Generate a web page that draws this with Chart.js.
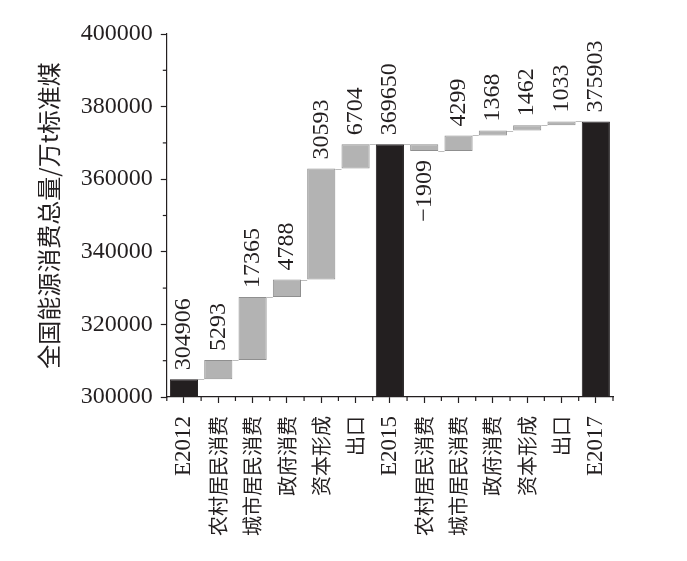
<!DOCTYPE html>
<html><head><meta charset="utf-8">
<script src="https://cdn.jsdelivr.net/npm/chart.js@4"></script>
<style>html,body{margin:0;padding:0;background:#fff;} #wrap{width:687px;height:561px;position:relative;}</style>
</head><body><div id="wrap"><canvas id="c"></canvas></div>
<script>
const categories = ['E2012','农村居民消费','城市居民消费','政府消费','资本形成','出口','E2015','农村居民消费','城市居民消费','政府消费','资本形成','出口','E2017'];
const values = [304906, 5293, 17365, 4788, 30593, 6704, 369650, -1909, 4299, 1368, 1462, 1033, 375903];
const isTotal = [true, false, false, false, false, false, true, false, false, false, false, false, true];
const yTicks = [300000, 320000, 340000, 360000, 380000, 400000];
const yTitle = '全国能源消费总量/万t标准煤';

const ranges = [];
const levels = [];
let running = 0;
values.forEach((v, i) => {
  if (isTotal[i]) { ranges.push([0, v]); running = v; }
  else { ranges.push([running, running + v]); running += v; }
  levels.push(running);
});
const fmt = v => (v < 0 ? '\u2212' + Math.abs(v) : String(v));
const INK = '#231f20';
const SERIF = '"Liberation Serif", "Times New Roman", serif';
const CJK = '"Noto Sans CJK SC", "Noto Sans CJK JP", sans-serif';

const extras = {
  id: 'extras',
  beforeDatasetsDraw(chart) {
    const ctx = chart.ctx, meta = chart.getDatasetMeta(0), y = chart.scales.y;
    ctx.save();
    ctx.strokeStyle = '#bdbdbd'; ctx.lineWidth = 1;
    for (let i = 0; i < meta.data.length - 1; i++) {
      const a = meta.data[i], b = meta.data[i + 1];
      const py = Math.round(y.getPixelForValue(levels[i])) + 0.5;
      ctx.beginPath(); ctx.moveTo(a.x + a.width / 2, py); ctx.lineTo(b.x - b.width / 2, py); ctx.stroke();
    }
    ctx.restore();
  },
  afterDraw(chart) {
    const ctx = chart.ctx, meta = chart.getDatasetMeta(0), y = chart.scales.y, x = chart.scales.x;
    ctx.save();
    ctx.strokeStyle = INK; ctx.lineWidth = 1.2;
    for (let k = 0; k < yTicks.length - 1; k++) {
      const py = y.getPixelForValue((yTicks[k] + yTicks[k + 1]) / 2);
      ctx.beginPath(); ctx.moveTo(x.left, py); ctx.lineTo(x.left - 4, py); ctx.stroke();
    }
    const step = x.getPixelForValue(1) - x.getPixelForValue(0);
    for (let i = 0; i <= categories.length; i++) {
      const px = x.getPixelForValue(0) + (i - 0.5) * step;
      ctx.beginPath(); ctx.moveTo(px, y.bottom); ctx.lineTo(px, y.bottom + 4); ctx.stroke();
    }
    ctx.fillStyle = INK;
    ctx.font = '24px ' + SERIF;
    ctx.textBaseline = 'middle';
    meta.data.forEach((bar, i) => {
      const [s, e] = ranges[i];
      ctx.save();
      if (values[i] >= 0) {
        ctx.translate(bar.x, y.getPixelForValue(Math.max(s, e)) - 9);
        ctx.rotate(-Math.PI / 2); ctx.textAlign = 'left';
      } else {
        ctx.translate(bar.x, y.getPixelForValue(Math.min(s, e)) + 9);
        ctx.rotate(-Math.PI / 2); ctx.textAlign = 'right';
      }
      ctx.fillText(fmt(values[i]), 0, 0);
      ctx.restore();
    });
    ctx.restore();
  }
};

new Chart(document.getElementById('c'), {
  type: 'bar',
  data: {
    labels: categories,
    datasets: [{
      data: ranges,
      backgroundColor: isTotal.map(t => t ? INK : '#b3b3b3'),
      borderColor: isTotal.map(t => t ? INK : '#8f8f8f'),
      borderWidth: 1,
      borderSkipped: false,
      barPercentage: 0.82,
      categoryPercentage: 1.0
    }]
  },
  options: {
    responsive: true,
    maintainAspectRatio: false,
    animation: false,
    layout: { padding: { left: 29, right: 74, top: 34, bottom: 12 } },
    plugins: { legend: { display: false }, tooltip: { enabled: false } },
    scales: {
      x: {
        grid: { display: true, drawOnChartArea: false, offset: false, tickLength: 6, color: INK, tickColor: INK, tickWidth: 1.2 },
        border: { display: true, color: INK, width: 1.2 },
        ticks: {
          autoSkip: false, minRotation: 90, maxRotation: 90, padding: 13, color: INK,
          font: (ctx) => {
            const lab = categories[ctx.index] || '';
            return lab.charAt(0) === 'E' ? { family: SERIF, size: 23 } : { family: CJK, size: 20 };
          }
        }
      },
      y: {
        min: yTicks[0], max: yTicks[yTicks.length - 1],
        afterBuildTicks: s => { s.ticks = yTicks.map(v => ({ value: v })); },
        grid: { display: true, drawOnChartArea: false, tickLength: 6, color: INK, tickColor: INK, tickWidth: 1.2 },
        border: { display: true, color: INK, width: 1.2 },
        ticks: { padding: 8, color: INK, font: { family: SERIF, size: 24 }, callback: v => String(v) },
        title: { display: true, text: yTitle, color: INK, padding: { top: 5, bottom: 10 },
          font: { family: CJK, size: 24 } }
      }
    }
  },
  plugins: [extras]
});
</script></body></html>
